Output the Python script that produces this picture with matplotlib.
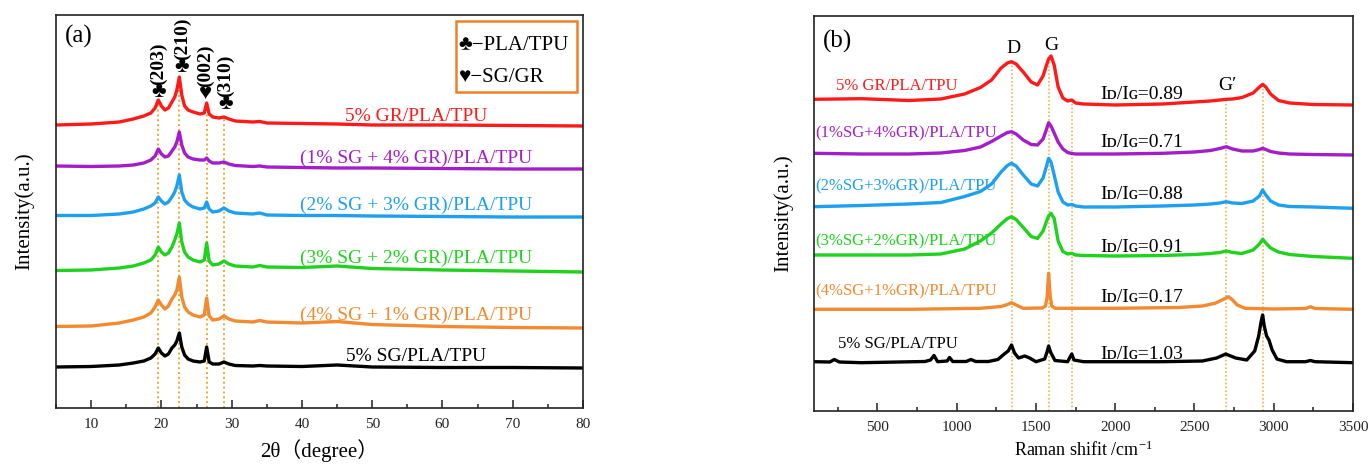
import matplotlib
matplotlib.use("Agg")
import matplotlib.pyplot as plt
from matplotlib.patches import Rectangle
from matplotlib.ticker import MultipleLocator

# ---------------- data: XRD (panel a) ----------------
two_theta = [5, 10, 14, 16, 17.5, 18.5, 19.1, 19.56, 20.0, 20.5, 21.0, 21.5, 21.9, 22.2,
             22.55, 22.9, 23.3, 23.8, 24.5, 25.5, 26.1, 26.44, 26.8, 27.3, 28.2, 28.9,
             29.6, 30.5, 33, 34, 35, 40, 45, 50, 60, 70, 80]
xrd_gr5 = [283, 284, 286, 289, 292, 295, 300, 308, 302, 298, 300, 306, 311, 318, 331, 313,
           302, 298, 296, 294, 295, 305, 294, 291, 290, 291, 289, 287, 286, 286.5, 285,
           284.5, 284, 283, 283, 282.5, 282]
xrd_sg1gr4 = [242, 241.5, 242, 243, 245, 248, 252, 259, 254, 251, 252, 257, 261, 266, 276,
              263, 255, 251, 249, 248, 248, 250, 247, 245, 245, 246, 244, 242.5, 241.5, 242,
              241, 240.5, 240, 240, 239.5, 239, 239]
xrd_sg2gr3 = [192.5, 192.5, 194, 196, 199, 202, 205, 211, 207, 204, 206, 211, 216, 222, 233,
              216, 208, 204, 201, 199, 200, 206, 199, 196, 197, 200, 197, 195, 194, 195,
              193, 192.5, 192.5, 192, 191.5, 191, 191]
xrd_sg3gr2 = [137.5, 138, 140, 142, 145, 148, 153, 161, 156, 153, 155, 161, 168, 174, 185,
              166, 156, 151, 148, 146, 148, 165, 147, 143, 144, 147, 144, 142, 141, 142.5,
              141, 140.5, 142, 139.5, 138, 137, 136]
xrd_sg4gr1 = [81.5, 82, 85, 88, 91, 95, 101, 108, 103, 99, 102, 109, 113, 118, 131, 111, 101,
              96, 93, 91, 93, 110, 92, 88, 89, 92, 89, 87, 86, 87.5, 86, 85, 86.5, 83.5,
              81.5, 80.5, 80]
xrd_sg5 = [41, 41.5, 43, 45, 47, 50, 54, 60, 55, 52, 54, 60, 63, 67, 75, 61, 53, 49, 47, 46,
           47, 61, 46, 44, 44, 46, 44, 42.5, 42, 42.5, 42, 41.5, 43, 41, 40.5, 40.5, 40]
xrd_labels = ["5% GR/PLA/TPU", "(1% SG + 4% GR)/PLA/TPU", "(2% SG + 3% GR)/PLA/TPU",
              "(3% SG + 2% GR)/PLA/TPU", "(4% SG + 1% GR)/PLA/TPU", "5% SG/PLA/TPU"]
xrd_label_y = [287, 245, 198, 145, 88, 47]
xrd_peaks = [19.56, 22.55, 26.44, 28.9]
xrd_peak_tops = [308, 331, 305, 291]
xrd_peak_names = ["(203)", "(210)", "(002)", "(310)"]
xrd_peak_syms = ["\u2663", "\u2663", "\u2665", "\u2663"]
xrd_name_x = [19.6, 22.95, 26.3, 29.15]
xrd_sym_y = [311, 336, 309, 299]

# ---------------- data: Raman (panel b) ----------------
raman_x = [100, 400, 700, 900, 1050, 1150, 1220, 1280, 1320, 1346, 1375, 1420, 1470, 1510,
           1545, 1565, 1580, 1595, 1615, 1640, 1670, 1700, 1726, 1750, 1800, 2000, 2300,
           2500, 2600, 2660, 2701, 2740, 2800, 2870, 2910, 2930, 2950, 2980, 3030, 3100,
           3250, 3500]
ram_gr5 = [311.7, 312.3, 310.5, 312, 317, 323.5, 331, 343, 348, 349.3, 347, 339, 329, 326,
           335, 345, 352, 355, 346, 324, 313, 310, 311, 308, 307, 306, 307, 309, 310, 311,
           311.7, 312, 313.5, 318, 324, 326.7, 324, 317, 310.5, 308, 306.5, 306]
ram_sg1gr4 = [257.7, 257, 257, 258, 260.5, 264, 269.5, 275, 278.5, 279.3, 277, 271, 266.5,
              266, 272, 281, 288.3, 285, 278, 269, 262, 258.5, 257.5, 257, 257, 257, 257.7,
              259, 260.5, 262.5, 264.3, 262, 260, 260, 261.5, 262.7, 261.5, 259.5, 258, 257,
              256.5, 256]
ram_sg2gr3 = [204.3, 205.5, 207, 208.5, 214.5, 219.5, 227, 239, 245.5, 247.7, 245, 236, 227,
              225, 233, 244, 252.7, 249, 236, 219, 209, 206, 206.5, 205, 204, 204, 205, 206,
              207, 208, 209.3, 208, 207.5, 210, 215, 221, 216, 210, 206, 204.5, 204, 202.7]
ram_sg3gr2 = [156, 156, 156, 157, 162, 170, 178, 187, 192.5, 194.3, 191.5, 183.5, 174.5,
              172.5, 180, 189, 195, 197.7, 192.5, 170, 159.5, 157, 157.7, 156, 155.5, 155,
              155.5, 156.5, 157.5, 158.5, 160, 158.5, 157.5, 161, 167, 171.7, 168, 163, 159,
              156.5, 154.5, 152.7]
orange_x = [100, 700, 1150, 1280, 1320, 1346, 1375, 1420, 1540, 1560, 1570, 1580, 1590, 1600,
            1620, 2000, 2400, 2550, 2630, 2680, 2715, 2740, 2770, 2820, 3000, 3200, 3232,
            3260, 3500]
ram_sg4gr1 = [101.7, 101.7, 102.7, 104.5, 106.5, 108.3, 106, 102.7, 103, 105, 113, 137.7,
              115, 105, 102.7, 102.7, 103.5, 105, 107.7, 111.5, 114.3, 111, 106, 102.7, 102,
              102.5, 104.3, 102.5, 101.7]
black_x = [100, 200, 228, 260, 400, 800, 835, 857, 880, 940, 955, 975, 1060, 1090, 1120, 1200,
           1260, 1300, 1325, 1346, 1365, 1390, 1430, 1460, 1500, 1555, 1570, 1580, 1592, 1620,
           1700, 1715, 1726, 1740, 1800, 2300, 2550, 2640, 2697, 2760, 2830, 2880, 2905,
           2920, 2930, 2940, 2955, 2970, 2990, 3020, 3080, 3200, 3232, 3260, 3500]
ram_sg5 = [49.3, 49, 51.5, 49, 48.3, 49.5, 51, 55.5, 49.3, 50, 53.5, 49.5, 49.5, 51.5, 49.5,
           49.5, 51.5, 57, 60, 66, 58, 53, 55, 53, 49.3, 52, 59, 65, 59, 50.5, 49.3, 54, 57,
           51, 49.3, 49.3, 50, 53, 57, 53, 51, 60, 75, 89, 96, 85, 75, 71, 61, 52, 49.3,
           49.3, 50.5, 49.3, 48.3]
ram_labels = ["5% GR/PLA/TPU", "(1%SG+4%GR)/PLA/TPU", "(2%SG+3%GR)/PLA/TPU",
              "(3%SG+2%GR)/PLA/TPU", "(4%SG+1%GR)/PLA/TPU", "5% SG/PLA/TPU"]
ram_label_x = [239, 106, 106, 106, 106, 251]
ram_label_y = [321, 274, 221, 166, 116, 63]
idig_values = ["0.89", "0.71", "0.88", "0.91", "0.17", "1.03"]
idig_y = [312, 264.3, 212, 159.5, 109.3, 52]
raman_lines = [1346, 1580, 1726, 2701, 2930]
raman_line_tops = [349.3, 354, 309, 311, 326.7]

colors = ["#ff1a1a", "#a31ec8", "#1ea0f0", "#1ed21e", "#f28a30", "#000000"]
dot_color = "#f0a830"

SERIF = ["Liberation Serif", "DejaVu Serif", "Noto Sans CJK SC"]
plt.rcParams["font.family"] = SERIF
plt.rcParams["mathtext.fontset"] = "custom"
plt.rcParams["mathtext.rm"] = "Liberation Serif"
plt.rcParams["mathtext.default"] = "rm"

W, H = 1372, 465
fig = plt.figure(figsize=(W / 100, H / 100), dpi=100)
axA = fig.add_axes([56 / W, (H - 408) / H, 527 / W, 393 / H])
axB = fig.add_axes([814 / W, (H - 411) / H, 539 / W, 395 / H])


def style(ax):
    for s in ax.spines.values():
        s.set_linewidth(1.2)
        s.set_color("#222222")
    ax.set_yticks([])
    ax.tick_params(axis="x", which="both", direction="in", top=False, labelsize=11, pad=7,
                   colors="#222222")
    ax.tick_params(axis="x", which="major", length=6, width=1.1)
    ax.tick_params(axis="x", which="minor", length=3, width=1.1)


# ---------------- panel a ----------------
style(axA)
axA.set_xlim(5, 80)
axA.set_ylim(0, 393)
axA.xaxis.set_major_locator(MultipleLocator(10))
axA.xaxis.set_minor_locator(MultipleLocator(5))
for xp, top in zip(xrd_peaks, xrd_peak_tops):
    axA.plot([xp, xp], [0, top], ls=(0, (1, 1.5)), color=dot_color, lw=1.4, zorder=1)
for ys, c in zip([xrd_gr5, xrd_sg1gr4, xrd_sg2gr3, xrd_sg3gr2, xrd_sg4gr1, xrd_sg5], colors):
    axA.plot(two_theta, ys, color=c, lw=2.4, zorder=2, solid_joinstyle="round")
for lab, y, c in zip(xrd_labels, xrd_label_y, colors):
    axA.text(56.2, y, lab, color=c, fontsize=14, ha="center", va="baseline")
for xn, ys, name, sym in zip(xrd_name_x, xrd_sym_y, xrd_peak_names, xrd_peak_syms):
    axA.text(xn, ys, sym, fontsize=16, ha="center", va="baseline")
    axA.text(xn, ys + 12, name, fontsize=14, fontweight="bold", rotation=90,
             ha="center", va="bottom")
axA.text(6.3, 365, "(a)", fontsize=18, ha="left", va="baseline")
axA.add_patch(Rectangle((61.9, 316.3), 17.2, 71, fill=False, edgecolor="#f08028", lw=1.8,
                        zorder=3))
axA.text(62.3, 358, "\u2663\u2212PLA/TPU", fontsize=15, ha="left", va="baseline")
axA.text(62.3, 326.3, "\u2665\u2212SG/GR", fontsize=15, ha="left", va="baseline")
axA.set_xlabel("2\u03b8\uff08degree\uff09", fontsize=15, labelpad=6)
axA.set_ylabel("Intensity(a.u.)", fontsize=15, labelpad=16)

# ---------------- panel b ----------------
style(axB)
axB.set_xlim(100, 3500)
axB.set_ylim(0, 395)
axB.xaxis.set_major_locator(MultipleLocator(500))
axB.xaxis.set_minor_locator(MultipleLocator(250))
for xp, top in zip(raman_lines, raman_line_tops):
    axB.plot([xp, xp], [0, top], ls=(0, (1, 1.5)), color=dot_color, lw=1.1, zorder=1)
series_b = [(raman_x, ram_gr5), (raman_x, ram_sg1gr4), (raman_x, ram_sg2gr3),
            (raman_x, ram_sg3gr2), (orange_x, ram_sg4gr1), (black_x, ram_sg5)]
for (xs, ys), c in zip(series_b, colors):
    axB.plot(xs, ys, color=c, lw=2.4, zorder=2, solid_joinstyle="round")
for lab, x, y, c in zip(ram_labels, ram_label_x, ram_label_y, colors):
    axB.text(x, y, lab, color=c, fontsize=12, ha="left", va="baseline")
for v, y in zip(idig_values, idig_y):
    axB.text(1904, y, "I\u1d05/I\u0262=" + v, fontsize=14, ha="left", va="baseline")
axB.text(1358, 357.7, "D", fontsize=14, ha="center", va="baseline")
axB.text(1598, 361, "G", fontsize=14, ha="center", va="baseline")
axB.text(2648, 321, "G\u2032", fontsize=14, ha="left", va="baseline")
axB.text(157, 363, "(b)", fontsize=18, ha="left", va="baseline")
axB.set_xlabel("Raman shifit /cm$^{\\mathregular{-1}}$", fontsize=13, labelpad=5)
axB.set_ylabel("Intensity(a.u.)", fontsize=15, labelpad=15)

fig.savefig("out.png", dpi=100)
